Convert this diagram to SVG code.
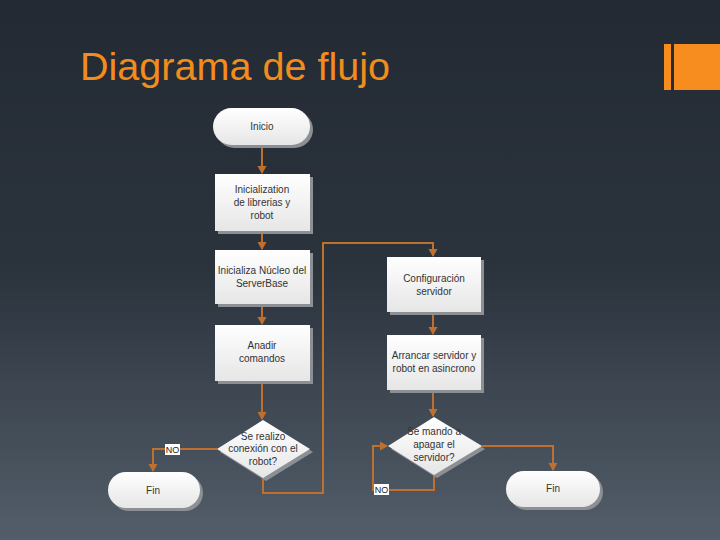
<svg xmlns="http://www.w3.org/2000/svg" width="720" height="540" viewBox="0 0 720 540">
<style>
.t{font-family:"Liberation Sans",Arial,sans-serif;font-size:10px;fill:#333;text-anchor:middle}
.s{fill:#8c8f94}
.n{fill:url(#ng)}
.c{fill:none;stroke:#c0702e;stroke-width:2}
.lbl{fill:#fff}
</style>
<defs>
<linearGradient id="bg" x1="0" y1="0" x2="0" y2="1">
<stop offset="0" stop-color="#232a33"/>
<stop offset="0.5" stop-color="#2b333d"/>
<stop offset="1" stop-color="#535e6a"/>
</linearGradient>
<linearGradient id="ng" x1="0" y1="0" x2="0" y2="1">
<stop offset="0" stop-color="#ffffff"/>
<stop offset="1" stop-color="#e6e6e6"/>
</linearGradient>
<marker id="ah" markerWidth="10" markerHeight="10" refX="7" refY="5" orient="auto" markerUnits="userSpaceOnUse">
<path d="M0,0.5 L8,5 L0,9.5 Z" fill="#c0702e"/>
</marker>
</defs>
<rect width="720" height="540" fill="url(#bg)"/>
<rect x="664" y="44" width="7" height="46" fill="#f78d1e"/>
<rect x="674" y="44" width="46" height="46" fill="#f78d1e"/>
<text x="80" y="80" font-family="Liberation Sans,Arial,sans-serif" font-size="38" textLength="310" lengthAdjust="spacingAndGlyphs" fill="#f28c1c">Diagrama de flujo</text>

<g id="connectors">
<path class="c" d="M262,145 V173" marker-end="url(#ah)"/>
<path class="c" d="M262,231 V249" marker-end="url(#ah)"/>
<path class="c" d="M262,304 V324" marker-end="url(#ah)"/>
<path class="c" d="M262,381 V419" marker-end="url(#ah)"/>
<path class="c" d="M217,449 H153 V471" marker-end="url(#ah)"/>
<path class="c" d="M263,478 V493 H323 V243 H433 V256" marker-end="url(#ah)"/>
<path class="c" d="M433,312 V334" marker-end="url(#ah)"/>
<path class="c" d="M433,390 V416" marker-end="url(#ah)"/>
<path class="c" d="M482,446 H553 V470" marker-end="url(#ah)"/>
<path class="c" d="M434,475 V490 H373 V446 H387" marker-end="url(#ah)"/>
<rect class="lbl" x="165" y="444" width="15" height="11"/>
<text x="172.5" y="453" font-family="Liberation Sans,Arial,sans-serif" font-size="9" fill="#222" text-anchor="middle">NO</text>
<rect class="lbl" x="374" y="484" width="15" height="11"/>
<text x="381.5" y="493" font-family="Liberation Sans,Arial,sans-serif" font-size="9" fill="#222" text-anchor="middle">NO</text>
</g>

<g id="inicio">
<rect class="s" x="216" y="111" width="97" height="37" rx="18.5"/>
<rect class="n" x="213" y="108" width="97" height="37" rx="18.5"/>
<text class="t" x="262" y="130">Inicio</text>
</g>
<g id="inicializacion">
<rect class="s" x="218" y="177" width="95" height="57"/>
<rect class="n" x="215" y="174" width="95" height="57"/>
<text class="t" x="262" y="193">Inicialization</text>
<text class="t" x="262" y="206">de librerias y</text>
<text class="t" x="262" y="219">robot</text>
</g>
<g id="nucleo">
<rect class="s" x="218" y="253" width="95" height="54"/>
<rect class="n" x="215" y="250" width="95" height="54"/>
<text class="t" x="262" y="274">Inicializa Núcleo del</text>
<text class="t" x="262" y="287">ServerBase</text>
</g>
<g id="anadir">
<rect class="s" x="218" y="328" width="95" height="56"/>
<rect class="n" x="215" y="325" width="95" height="56"/>
<text class="t" x="262" y="349">Anadir</text>
<text class="t" x="262" y="362">comandos</text>
</g>
<g id="conexion">
<polygon class="s" points="266,423 313,452 266,481 220,452"/>
<polygon class="n" points="263,420 310,449 263,478 217,449"/>
<text class="t" x="263" y="440">Se realizo</text>
<text class="t" x="263" y="452">conexión con el</text>
<text class="t" x="263" y="465">robot?</text>
</g>
<g id="fin1">
<rect class="s" x="111" y="475" width="92" height="36" rx="18"/>
<rect class="n" x="108" y="472" width="92" height="36" rx="18"/>
<text class="t" x="153" y="494">Fin</text>
</g>
<g id="configuracion">
<rect class="s" x="390" y="260" width="94" height="55"/>
<rect class="n" x="387" y="257" width="94" height="55"/>
<text class="t" x="434" y="282">Configuración</text>
<text class="t" x="434" y="295">servidor</text>
</g>
<g id="arrancar">
<rect class="s" x="390" y="338" width="94" height="55"/>
<rect class="n" x="387" y="335" width="94" height="55"/>
<text class="t" x="434" y="359">Arrancar servidor y</text>
<text class="t" x="434" y="372">robot en asincrono</text>
</g>
<g id="apagar">
<polygon class="s" points="437,420 485,449 437,478 391,449"/>
<polygon class="n" points="434,417 482,446 434,475 388,446"/>
<text class="t" x="434" y="435">Se mando a</text>
<text class="t" x="434" y="448">apagar el</text>
<text class="t" x="434" y="461">servidor?</text>
</g>
<g id="fin2">
<rect class="s" x="509" y="474" width="94" height="36" rx="18"/>
<rect class="n" x="506" y="471" width="94" height="36" rx="18"/>
<text class="t" x="553" y="492">Fin</text>
</g>
</svg>
